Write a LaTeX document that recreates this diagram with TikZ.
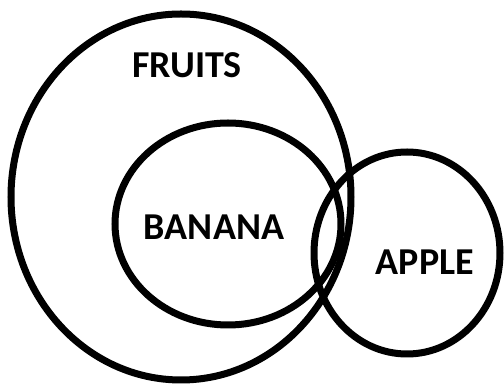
\documentclass[tikz,border=0pt]{standalone}
\usepackage{fontspec}
\setmainfont{Carlito}
\begin{document}
\begin{tikzpicture}[x=1pt,y=1pt,
  ring/.style={draw=black,line width=7pt},
  lbl/.style={font=\bfseries\fontsize{38}{42}\selectfont,text=black,inner sep=0pt}]
\useasboundingbox (0,0) rectangle (504,385);
\draw[ring] (181,188) ellipse [x radius=170, y radius=183];
\draw[ring] (228,161) ellipse [x radius=113, y radius=101];
\draw[ring] (407,132) ellipse [x radius=93, y radius=101];
\node[lbl] (fruits) at (187,320) {FRUITS};
\node[lbl] (banana) at (214,158) {BANANA};
\node[lbl] (apple) at (425,123) {APPLE};
\end{tikzpicture}
\end{document}
